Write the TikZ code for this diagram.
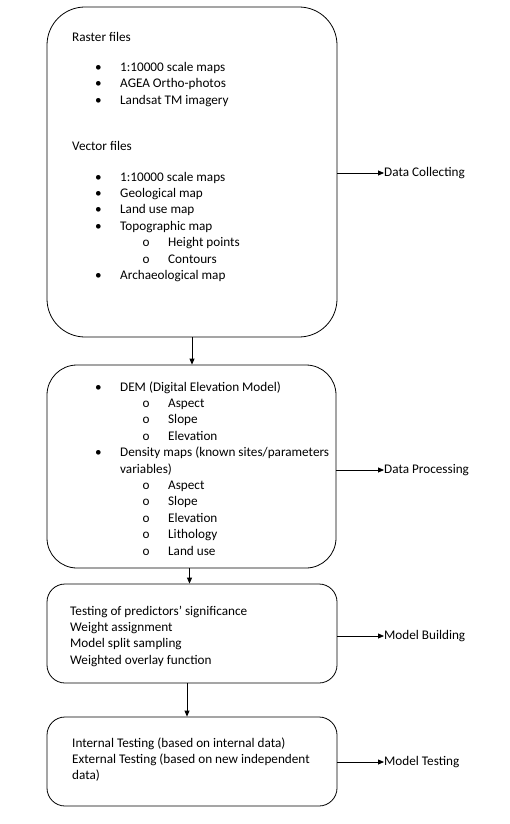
\documentclass[tikz,border=0pt]{standalone}
\usepackage{fontspec}
\setmainfont{Carlito}
\usetikzlibrary{arrows.meta}
\newcommand{\bitem}[1]{\hspace*{23pt}\makebox[25pt][l]{\textbullet}#1}
\newcommand{\sitem}[1]{\hspace*{70.5pt}\makebox[25.5pt][l]{o}#1}

\begin{document}
\begin{tikzpicture}[x=1pt,y=-1pt,
	box/.style={draw,line width=0.8pt,inner sep=0pt},
	txt/.style={align=left,anchor=north west,inner sep=0pt,font={\fontsize{13.2}{16.4}\selectfont}},
	lab/.style={anchor=west,inner sep=0pt,font={\fontsize{13.2}{16}\selectfont}},
	arr/.style={line width=0.8pt,-{Triangle[length=6pt,width=5pt]}}]
	\useasboundingbox (0,0) rectangle (510,824);
	% boxes
	\node[box,minimum width=290pt,minimum height=330pt,rounded corners=38pt] (b1) at (192,172) {};
	\node[box,minimum width=289pt,minimum height=203pt,rounded corners=30pt] (b2) at (191.5,466.5) {};
	\node[box,minimum width=290pt,minimum height=99pt,rounded corners=18pt] (b3) at (192,633.5) {};
	\node[box,minimum width=290pt,minimum height=89pt,rounded corners=18pt] (b4) at (192,761.5) {};
	% box texts
	\node[txt] (t1) at (72,29.5) {\strut Raster files\\[14pt]
		\bitem{1:10000 scale maps}\\
		\bitem{AGEA Ortho-photos}\\
		\bitem{Landsat TM imagery}\\[29.5pt]
		Vector files\\[14.5pt]
		\bitem{1:10000 scale maps}\\
		\bitem{Geological map}\\
		\bitem{Land use map}\\
		\bitem{Topographic map}\\
		\sitem{Height points}\\
		\sitem{Contours}\\
		\bitem{Archaeological map}};
	\node[txt] (t2) at (72,379.5) {\strut\bitem{DEM (Digital Elevation Model)}\\
		\sitem{Aspect}\\
		\sitem{Slope}\\
		\sitem{Elevation}\\
		\bitem{Density maps (known sites/parameters}\\
		\hspace*{48pt}variables)\\
		\sitem{Aspect}\\
		\sitem{Slope}\\
		\sitem{Elevation}\\
		\sitem{Lithology}\\
		\sitem{Land use}};
	\node[txt] (t3) at (70,603.5) {\strut Testing of predictors’ significance\\
		Weight assignment\\
		Model split sampling\\
		Weighted overlay function};
	\node[txt] (t4) at (72,735.5) {\strut Internal Testing (based on internal data)\\
		External Testing (based on new independent\\
		data)};
	% side labels
	\node[lab] (l1) at (384,173) {Data Collecting};
	\node[lab] (l2) at (384,470) {Data Processing};
	\node[lab] (l3) at (384,636) {Model Building};
	\node[lab] (l4) at (384,762) {Model Testing};
	% arrows
	\draw[arr] (b1.south) -- (b2.north -| b1.south);
	\draw[arr] ([xshift=-2pt]b2.south) -- ([xshift=-2pt]b3.north -| b2.south);
	\draw[arr] ([xshift=-5pt]b3.south) -- ([xshift=-5pt]b4.north);
	\draw[arr] (b1.east |- l1) -- (l1.west);
	\draw[arr] (b2.east |- l2) -- (l2.west);
	\draw[arr] (b3.east |- l3) -- (l3.west);
	\draw[arr] (b4.east |- l4) -- (l4.west);
\end{tikzpicture}
\end{document}
